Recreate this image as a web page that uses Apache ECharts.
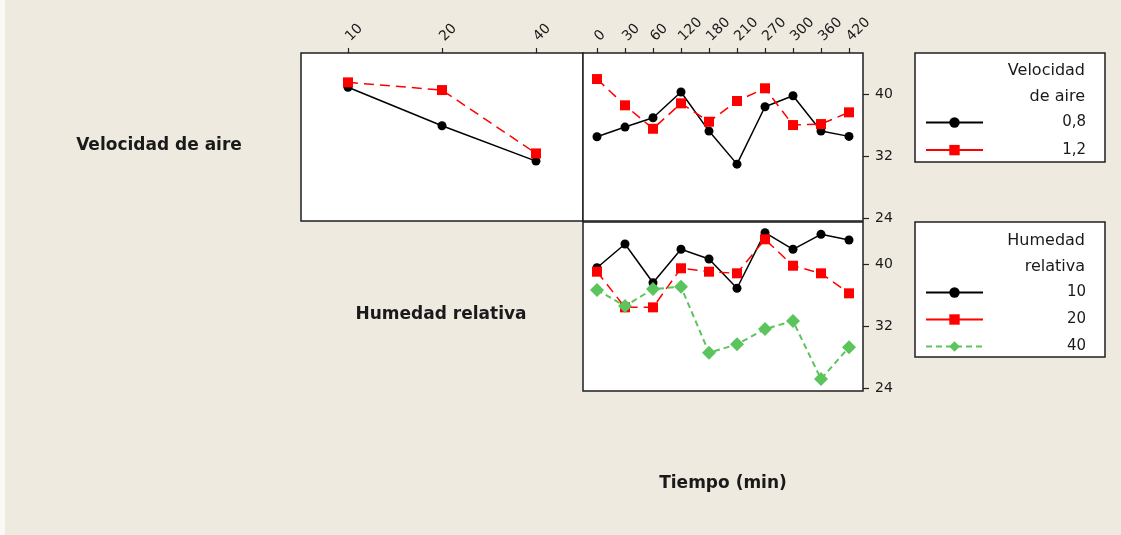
<!DOCTYPE html>
<html>
<head>
<meta charset="utf-8">
<title>Gráfica de interacción</title>
<script src="https://cdn.jsdelivr.net/npm/echarts@6.0.0/dist/echarts.min.js"></script>
<style>
  html, body { margin: 0; padding: 0; background: #EEEAE0; }
  #chart { width: 1121px; height: 535px; }
</style>
</head>
<body>
<div id="chart"></div>
<script>
// Factor levels and tick labels
const humLevels = ['10', '20', '40'];
const timeLabels = ['0', '30', '60', '120', '180', '210', '270', '300', '360', '420'];
const yTicks = [24, 32, 40];

// Mean response: Velocidad de aire x Humedad relativa
const velHum08 = [40.95, 35.96, 31.37];
const velHum12 = [41.59, 40.59, 32.37];

// Mean response: Velocidad de aire x Tiempo
const velTime08 = [34.53, 35.79, 37.00, 40.34, 35.27, 30.98, 38.43, 39.85, 35.27, 34.58];
const velTime12 = [42.02, 38.61, 35.57, 38.87, 36.48, 39.17, 40.82, 36.05, 36.18, 37.70];

// Mean response: Humedad relativa x Tiempo
const humTime10 = [39.50, 42.56, 37.57, 41.88, 40.63, 36.85, 44.02, 41.88, 43.81, 43.08];
const humTime20 = [38.99, 34.39, 34.39, 39.43, 38.99, 38.78, 43.17, 39.76, 38.78, 36.20];
const humTime40 = [36.63, 34.56, 36.75, 37.05, 28.54, 29.62, 31.59, 32.63, 25.14, 29.23];

const TXT = '#1a1a1a';
const FONT = 'DejaVu Sans';
const Y_MIN = 23.6, Y_MAX = 45.4;

const chart = echarts.init(document.getElementById('chart'), null, { renderer: 'canvas' });

const gridBase = { show: true, backgroundColor: '#ffffff', borderColor: '#1f1f1f', borderWidth: 1.5, containLabel: false };

function topXAxis(gridIndex, data) {
  return {
    type: 'category', gridIndex, data, position: 'top', boundaryGap: true,
    axisLine: { show: false },
    axisTick: { show: true, alignWithLabel: true, length: 5, lineStyle: { color: '#222', width: 1.2 } },
    axisLabel: { rotate: -45, margin: 14, fontSize: 14, fontFamily: FONT, color: TXT, interval: 0 },
    splitLine: { show: false }
  };
}

function rightYAxis(gridIndex, showLabels) {
  return {
    type: 'value', gridIndex, position: 'right', min: Y_MIN, max: Y_MAX,
    axisLine: { show: false },
    axisTick: { show: showLabels, customValues: yTicks, length: 6, lineStyle: { color: '#222', width: 1.2 } },
    axisLabel: { show: showLabels, customValues: yTicks, margin: 12, fontSize: 14, fontFamily: FONT, color: TXT },
    splitLine: { show: false }
  };
}

const blackLine = { color: '#000000', width: 1.5, type: 'solid' };
const redLine = { color: '#ff0000', width: 1.5, type: [10, 6] };
const greenLine = { color: '#5cc45c', width: 2, type: [6, 4] };

function lineSeries(name, data, xi, yi, symbol, size, color, lineStyle) {
  return {
    type: 'line', name, data, xAxisIndex: xi, yAxisIndex: yi,
    symbol, symbolSize: size, showAllSymbol: true,
    itemStyle: { color, borderWidth: 0 },
    lineStyle, emphasis: { disabled: true }, animation: false
  };
}

const legendText = {
  fontSize: 15, fontFamily: FONT, color: TXT,
  rich: { r: { width: 98, align: 'right', fontSize: 15, fontFamily: FONT, color: TXT } }
};

const option = {
  backgroundColor: '#EEEAE0',
  animation: false,
  grid: [
    Object.assign({ left: 301, top: 53, width: 282, height: 168 }, gridBase),
    Object.assign({ left: 583, top: 53, width: 280, height: 168 }, gridBase),
    Object.assign({ left: 583, top: 222, width: 280, height: 169 }, gridBase)
  ],
  xAxis: [
    topXAxis(0, humLevels),
    topXAxis(1, timeLabels),
    { type: 'category', gridIndex: 2, data: timeLabels, boundaryGap: true,
      axisLine: { show: false }, axisTick: { show: false }, axisLabel: { show: false }, splitLine: { show: false } }
  ],
  yAxis: [rightYAxis(0, false), rightYAxis(1, true), rightYAxis(2, true)],
  legend: [
    {
      data: [{ name: '0,8' }, { name: '1,2', lineStyle: { type: 'solid' } }],
      orient: 'vertical', left: 925, top: 115, itemWidth: 57, itemHeight: 13, itemGap: 12.6,
      selectedMode: false, formatter: '{r|{name}}', textStyle: legendText, padding: 0
    },
    {
      data: [{ name: '10' }, { name: '20', lineStyle: { type: 'solid' } }, { name: '40' }],
      orient: 'vertical', left: 925, top: 285, itemWidth: 57, itemHeight: 13, itemGap: 12,
      selectedMode: false, formatter: '{r|{name}}', textStyle: legendText, padding: 0
    }
  ],
  graphic: [
    { type: 'rect', left: 0, top: 0, shape: { width: 5, height: 535 }, style: { fill: '#FAF9F6' }, silent: true },
    { type: 'rect', shape: { x: 915, y: 53, width: 190, height: 109 }, style: { fill: '#ffffff', stroke: '#1f1f1f', lineWidth: 1.5 }, z: -1, silent: true },
    { type: 'rect', shape: { x: 915, y: 222, width: 190, height: 135 }, style: { fill: '#ffffff', stroke: '#1f1f1f', lineWidth: 1.5 }, z: -1, silent: true },
    { type: 'text', x: 1085, y: 71, style: { text: 'Velocidad', fill: TXT, font: '16px "DejaVu Sans"', textAlign: 'right', textVerticalAlign: 'middle' }, silent: true },
    { type: 'text', x: 1085, y: 97, style: { text: 'de aire', fill: TXT, font: '16px "DejaVu Sans"', textAlign: 'right', textVerticalAlign: 'middle' }, silent: true },
    { type: 'text', x: 1085, y: 241, style: { text: 'Humedad', fill: TXT, font: '16px "DejaVu Sans"', textAlign: 'right', textVerticalAlign: 'middle' }, silent: true },
    { type: 'text', x: 1085, y: 267, style: { text: 'relativa', fill: TXT, font: '16px "DejaVu Sans"', textAlign: 'right', textVerticalAlign: 'middle' }, silent: true },
    { type: 'text', x: 159, y: 146, style: { text: 'Velocidad de aire', fill: TXT, font: 'bold 17px "DejaVu Sans"', textAlign: 'center', textVerticalAlign: 'middle' }, silent: true },
    { type: 'text', x: 441, y: 315, style: { text: 'Humedad relativa', fill: TXT, font: 'bold 17px "DejaVu Sans"', textAlign: 'center', textVerticalAlign: 'middle' }, silent: true },
    { type: 'text', x: 723, y: 484, style: { text: 'Tiempo (min)', fill: TXT, font: 'bold 17px "DejaVu Sans"', textAlign: 'center', textVerticalAlign: 'middle' }, silent: true }
  ],
  series: [
    lineSeries('0,8', velHum08, 0, 0, 'circle', 9, '#000000', blackLine),
    lineSeries('1,2', velHum12, 0, 0, 'rect', 10, '#ff0000', redLine),
    lineSeries('0,8', velTime08, 1, 1, 'circle', 9, '#000000', blackLine),
    lineSeries('1,2', velTime12, 1, 1, 'rect', 10, '#ff0000', redLine),
    lineSeries('10', humTime10, 2, 2, 'circle', 9, '#000000', blackLine),
    lineSeries('20', humTime20, 2, 2, 'rect', 10, '#ff0000', redLine),
    lineSeries('40', humTime40, 2, 2, 'diamond', 14, '#5cc45c', greenLine)
  ]
};

chart.setOption(option);
</script>
</body>
</html>
